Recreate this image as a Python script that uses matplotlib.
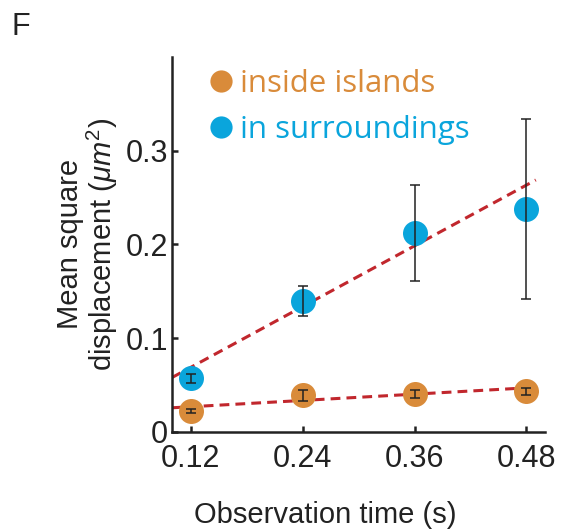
import matplotlib
matplotlib.use("Agg")
import matplotlib.pyplot as plt
from matplotlib.lines import Line2D
import numpy as np

plt.rcParams['font.family'] = ['Liberation Sans', 'DejaVu Sans']
plt.rcParams['mathtext.fontset'] = 'custom'
plt.rcParams['mathtext.rm'] = 'Liberation Sans'
plt.rcParams['mathtext.it'] = 'Liberation Sans:italic'

# Observation times (s)
obs_time = [0.12, 0.24, 0.36, 0.48]

# Mean square displacement (um^2) and error
msd_inside = [0.022, 0.039, 0.040, 0.043]
err_inside = [0.002, 0.006, 0.004, 0.004]
msd_surround = [0.057, 0.140, 0.212, 0.238]
err_surround = [0.005, 0.016, 0.051, 0.096]

# Linear fits (slope, intercept)
fit_inside = (0.056, 0.0199)
fit_surround = (0.541, 0.0037)
fit_range = [0.10, 0.49]

x_ticks = [0.12, 0.24, 0.36, 0.48]
x_ticklabels = ['0.12', '0.24', '0.36', '0.48']
y_ticks = [0, 0.1, 0.2, 0.3]
y_ticklabels = ['0', '0.1', '0.2', '0.3']

orange = '#D98B3A'
blue = '#0AA5DC'
red = '#C1272D'
ink = '#222222'

fig = plt.figure(figsize=(5.62, 5.29), dpi=100)
ax = fig.add_axes([0.306, 0.184, 0.664, 0.708])

xf = np.array(fit_range)
for slope, icpt in (fit_surround, fit_inside):
    ax.plot(xf, slope * xf + icpt, ls=(0, (3.2, 2.0)), color=red, lw=2.2, zorder=1)

ax.plot(obs_time, msd_surround, 'o', ms=18, color=blue, mec='none', zorder=2)
ax.plot(obs_time, msd_inside, 'o', ms=18, color=orange, mec='none', zorder=2)
ax.errorbar(obs_time, msd_surround, yerr=err_surround, fmt='none', ecolor=ink,
            elinewidth=1.1, capsize=3.3, capthick=1.1, zorder=3)
ax.errorbar(obs_time, msd_inside, yerr=err_inside, fmt='none', ecolor=ink,
            elinewidth=1.1, capsize=3.3, capthick=1.1, zorder=3)

ax.set_xlim(0.1, 0.5)
ax.set_ylim(0, 0.4)
ax.set_xticks(x_ticks)
ax.set_xticklabels(x_ticklabels)
ax.set_yticks(y_ticks)
ax.set_yticklabels(y_ticklabels)
ax.tick_params(direction='in', length=4, width=1.8, labelsize=22, colors=ink)
ax.tick_params(axis='x', pad=9)
ax.tick_params(axis='y', pad=3)
for side in ('top', 'right'):
    ax.spines[side].set_visible(False)
for side in ('left', 'bottom'):
    ax.spines[side].set_linewidth(1.8)
    ax.spines[side].set_color(ink)

ax.set_xlabel('Observation time (s)', fontsize=21, color=ink, va='baseline')
ax.xaxis.set_label_coords(0.41, -0.244)
ax.set_ylabel('Mean square\ndisplacement ($\\mu m^2$)', fontsize=21, color=ink,
              linespacing=1.05)
ax.yaxis.set_label_coords(-0.139, 0.5)

handles = [Line2D([], [], ls='none', marker='o', ms=16, color=orange, mec='none'),
           Line2D([], [], ls='none', marker='o', ms=16, color=blue, mec='none')]
leg = ax.legend(handles, ['inside islands', 'in surroundings'], loc='upper left',
                bbox_to_anchor=(0.018, 1.043), frameon=False, handlelength=0.9,
                handletextpad=0.15, labelspacing=0.5,
                prop={'family': 'Open Sans', 'size': 22.5})
for txt, c in zip(leg.get_texts(), (orange, blue)):
    txt.set_color(c)

fig.text(12 / 562, 1 - 12 / 529, 'F', fontsize=22, va='top', ha='left', color=ink)

fig.savefig('out.png', dpi=100)
